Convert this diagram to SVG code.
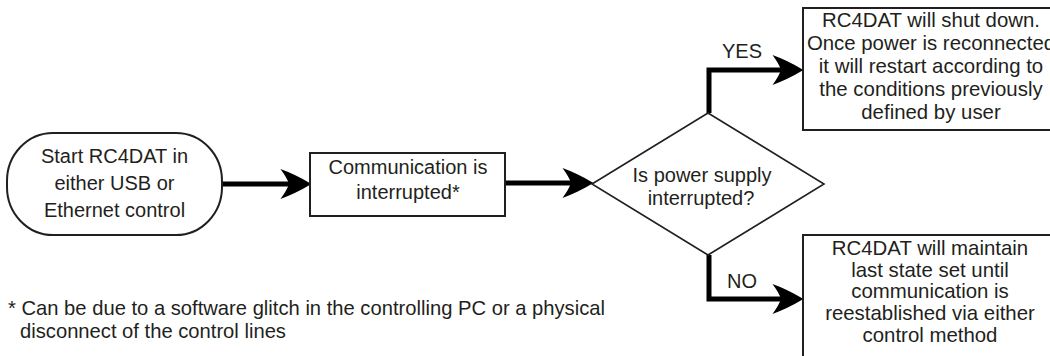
<svg xmlns="http://www.w3.org/2000/svg" width="1050" height="356" viewBox="0 0 1050 356">
<style>
  .bg{fill:#ffffff}
  .box{fill:#ffffff;stroke:#231f20;stroke-width:2}
  .dia{fill:#ffffff;stroke:#231f20;stroke-width:1.6}
  .t{font-family:"Liberation Sans",Arial,Helvetica,sans-serif;font-size:20px;fill:#231f20;text-anchor:middle}
  .tr{font-size:20.4px}
  .fn{font-family:"Liberation Sans",Arial,Helvetica,sans-serif;font-size:20.2px;fill:#231f20}
  .conn{fill:none;stroke:#000000;stroke-width:5;stroke-linejoin:miter;marker-end:url(#arrow)}
</style>
<defs>
  <marker id="arrow" markerUnits="userSpaceOnUse" markerWidth="32" markerHeight="30" viewBox="0 0 30 28" refX="8" refY="14" orient="auto">
    <path d="M29,14 Q14,5 0,0 Q6,8 8,14 Q6,20 0,28 Q14,23 29,14 Z" fill="#000000"/>
  </marker>
</defs>
<rect class="bg" x="0" y="0" width="1050" height="356"/>
<g id="connectors">
  <path class="conn" d="M222,184 H289"/>
  <path class="conn" d="M505,183 H571"/>
  <path class="conn" d="M709,113 V70 H781"/>
  <path class="conn" d="M709,255 V299 H781"/>
</g>
<g id="start">
  <rect class="box" x="7" y="133" width="215" height="102" rx="46" ry="48"/>
  <text class="t" x="114.5" y="163">Start RC4DAT in</text>
  <text class="t" x="114.5" y="190">either USB or</text>
  <text class="t" x="114.5" y="217">Ethernet control</text>
</g>
<g id="comm">
  <rect class="box" x="310" y="153" width="195" height="63"/>
  <text class="t" x="408" y="174">Communication is</text>
  <text class="t" x="408" y="199">interrupted*</text>
</g>
<g id="decision">
  <polygon class="dia" points="592,184 708,113 824,184 708,255"/>
  <text class="t" x="702" y="182">Is power supply</text>
  <text class="t" x="701" y="205">interrupted?</text>
</g>
<g id="label-yes">
  <text class="t" x="742" y="58">YES</text>
</g>
<g id="label-no">
  <text class="t" x="742" y="288">NO</text>
</g>
<g id="shutdown">
  <rect class="box" x="803" y="8" width="260" height="122"/>
  <text class="t tr" x="931" y="27">RC4DAT will shut down.</text>
  <text class="t tr" x="931" y="50">Once power is reconnected</text>
  <text class="t tr" x="931" y="73">it will restart according to</text>
  <text class="t tr" x="931" y="96">the conditions previously</text>
  <text class="t tr" x="931" y="119">defined by user</text>
</g>
<g id="maintain">
  <rect class="box" x="803" y="235" width="260" height="135"/>
  <text class="t tr" x="930" y="255">RC4DAT will maintain</text>
  <text class="t tr" x="930" y="277">last state set until</text>
  <text class="t tr" x="930" y="298">communication is</text>
  <text class="t tr" x="930" y="320">reestablished via either</text>
  <text class="t tr" x="930" y="342">control method</text>
</g>
<g id="footnote">
  <text class="fn" x="8" y="315">* Can be due to a software glitch in the controlling PC or a physical</text>
  <text class="fn" x="20" y="338">disconnect of the control lines</text>
</g>
</svg>
